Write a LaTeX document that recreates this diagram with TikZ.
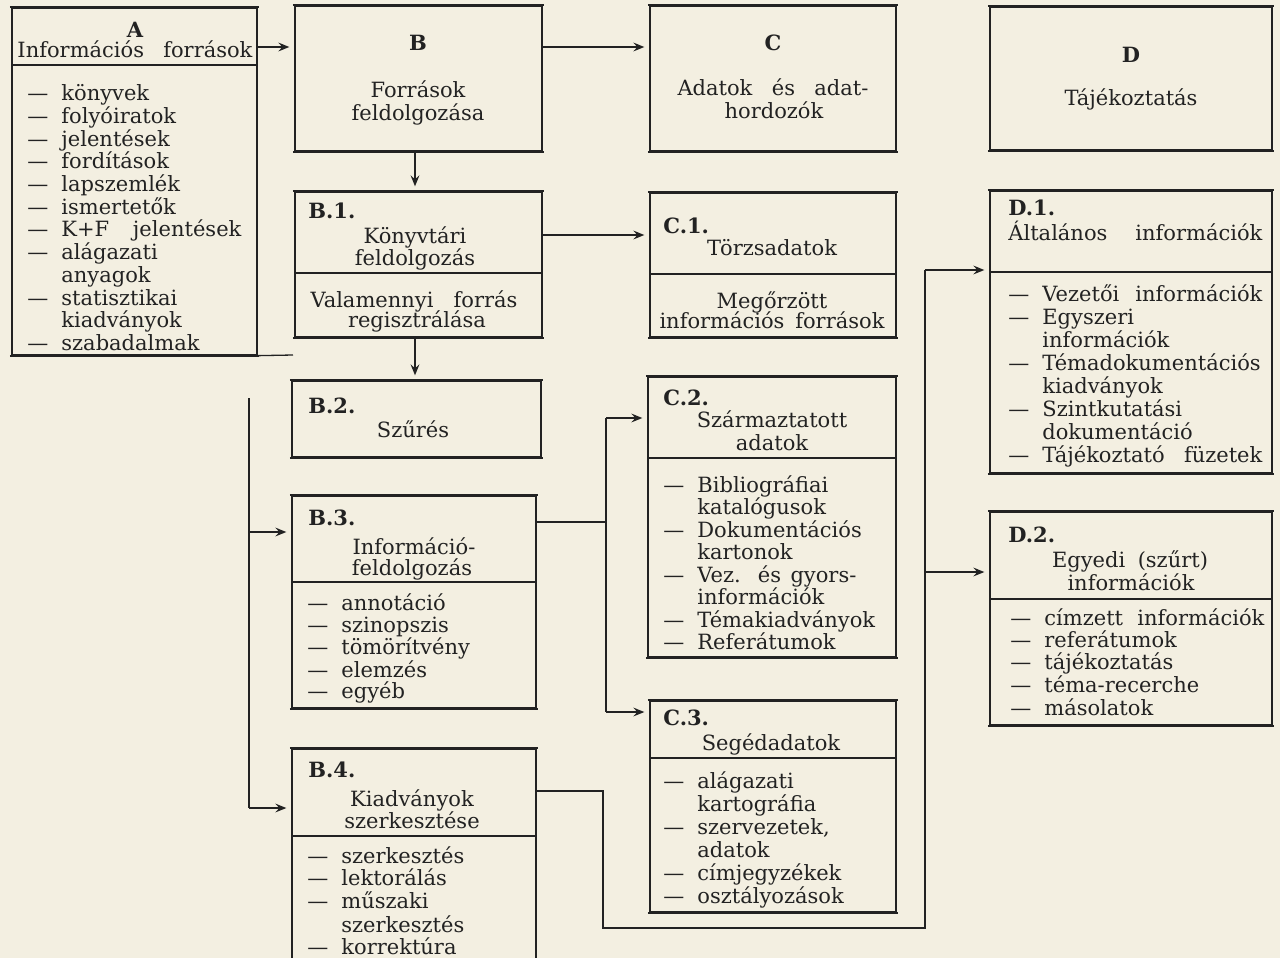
\documentclass[tikz,border=0pt]{standalone}
\usepackage{fontspec}
\setmainfont{DejaVu Serif}
\usetikzlibrary{arrows.meta,fit}
\definecolor{bg}{RGB}{243,239,225}
\definecolor{ink}{RGB}{34,34,34}
\newcommand\fnt{\fontsize{10.5}{11.5}\selectfont}
\newcounter{tno}
\newcommand\txc[3]{\stepcounter{tno}\node[ctx] (t\arabic{tno}) at (#1,#2) {#3};}
\newcommand\txl[3]{\stepcounter{tno}\node[ltx] (t\arabic{tno}) at (#1,#2) {#3};}
\newcommand\txb[3]{\stepcounter{tno}\node[btx] (t\arabic{tno}) at (#1,#2) {#3};}
\newcommand\txi[3]{\stepcounter{tno}\node[ltx] (t\arabic{tno}) at (#1,#2) {\makebox[17pt][l]{—}#3};}
\newcommand\txk[3]{\stepcounter{tno}\node[ltx] (t\arabic{tno}) at (#1,#2) {\hspace*{17pt}#3};}
\newcommand\bx[5]{\node[box, fit={(#2,#3) (#4,#5)}] (#1) {};
  \draw[hln] ([xshift=-0.8pt]#1.north west) -- ([xshift=0.8pt]#1.north east);
  \draw[hln] ([xshift=-0.8pt]#1.south west) -- ([xshift=0.8pt]#1.south east);}
\newcommand\dv[3]{\draw[dvl] (#1,#3) -- (#2,#3);}
\begin{document}
\begin{tikzpicture}[x=0.5pt,y=-0.5pt,
  box/.style={draw=ink, line width=0.65pt, inner sep=0pt},
  hln/.style={draw=ink, line width=1pt},
  dvl/.style={draw=ink, line width=0.65pt},
  ctx/.style={inner sep=0pt, anchor=base, font=\fnt, text=ink},
  ltx/.style={inner sep=0pt, anchor=base west, font=\fnt, text=ink},
  btx/.style={inner sep=0pt, anchor=base west, font=\fnt\bfseries, text=ink},
  ln/.style={draw=ink, line width=0.65pt, line join=miter},
  arr/.style={draw=ink, line width=0.65pt, -{Stealth[length=5.5pt,width=4.4pt,inset=2pt]}, shorten >=2.5pt}]
\fill[bg] (0,0) rectangle (1280,958);
\clip (0,0) rectangle (1280,958);

% ---------- boxes ----------
\bx{A}{12}{8}{257}{355}
\bx{B}{295}{6}{542}{151}
\bx{B1}{295}{192}{542}{337}
\bx{B2}{292}{381}{541}{457}
\bx{B3}{292}{496}{536}{708}
\bx{B4}{292}{749}{536}{985}
\bx{C}{650}{6}{896}{151}
\bx{C1}{650}{193}{896}{337}
\bx{C2}{648}{377}{896}{657}
\bx{C3}{650}{701}{896}{912}
\bx{D}{990}{7}{1272}{150}
\bx{D1}{990}{191}{1272}{473}
\bx{D2}{990}{512}{1272}{725}

% ---------- dividers ----------
\dv{12}{257}{65}
\dv{295}{542}{273}
\dv{292}{536}{582}
\dv{292}{536}{836}
\dv{650}{896}{274}
\dv{648}{896}{458}
\dv{650}{896}{758}
\dv{990}{1272}{272}
\dv{990}{1272}{599}

% ---------- A ----------
\txc{135}{37}{\bfseries A}
\txc{135}{57}{\makebox[117.5pt][s]{Információs források}}
\txi{27}{100}{könyvek}
\txi{27}{123}{folyóiratok}
\txi{27}{146}{jelentések}
\txi{27}{168}{fordítások}
\txi{27}{191}{lapszemlék}
\txi{27}{214}{ismertetők}
\txi{27}{236}{\makebox[90pt][s]{K+F jelentések}}
\txi{27}{259}{alágazati}
\txk{27}{282}{anyagok}
\txi{27}{305}{statisztikai}
\txk{27}{327}{kiadványok}
\txi{27}{350}{szabadalmak}

% ---------- B ----------
\txc{418}{50}{\bfseries B}
\txc{418}{97}{Források}
\txc{418}{120}{feldolgozása}

\txb{308}{218}{B.1.}
\txc{415}{243}{Könyvtári}
\txc{415}{265}{feldolgozás}
\txc{414}{307}{\makebox[103.5pt][s]{Valamennyi forrás}}
\txc{417}{327}{regisztrálása}

\txb{308}{413}{B.2.}
\txc{413}{437}{Szűrés}

\txb{308}{525}{B.3.}
\txc{414}{554}{Információ-}
\txc{412}{575}{feldolgozás}
\txi{307}{610}{annotáció}
\txi{307}{632}{szinopszis}
\txi{307}{654}{tömörítvény}
\txi{307}{677}{elemzés}
\txi{307}{698}{egyéb}

\txb{308}{777}{B.4.}
\txc{412}{806}{Kiadványok}
\txc{412}{828}{szerkesztése}
\txi{307}{863}{szerkesztés}
\txi{307}{885}{lektorálás}
\txi{307}{908}{műszaki}
\txk{307}{932}{szerkesztés}
\txi{307}{954}{korrektúra}

% ---------- C ----------
\txc{773}{50}{\bfseries C}
\txc{773}{95}{\makebox[95.5pt][s]{Adatok és adat-}}
\txc{774}{118}{hordozók}

\txb{663}{233}{C.1.}
\txc{772}{255}{Törzsadatok}
\txc{772}{308}{Megőrzött}
\txc{772}{328}{\makebox[112.5pt][s]{információs források}}

\txb{663}{405}{C.2.}
\txc{772}{427}{Származtatott}
\txc{772}{450}{adatok}
\txi{663}{492}{Bibliográfiai}
\txk{663}{514}{katalógusok}
\txi{663}{537}{Dokumentációs}
\txk{663}{559}{kartonok}
\txi{663}{582}{\makebox[79.5pt][s]{Vez. és gyors-}}
\txk{663}{604}{információk}
\txi{663}{627}{Témakiadványok}
\txi{663}{649}{Referátumok}

\txb{663}{725}{C.3.}
\txc{771}{750}{Segédadatok}
\txi{663}{788}{alágazati}
\txk{663}{811}{kartográfia}
\txi{663}{834}{szervezetek,}
\txk{663}{857}{adatok}
\txi{663}{880}{címjegyzékek}
\txi{663}{903}{osztályozások}

% ---------- D ----------
\txc{1131}{62}{\bfseries D}
\txc{1131}{105}{Tájékoztatás}

\txb{1008}{215}{D.1.}
\txl{1008}{240}{\makebox[127pt][s]{Általános információk}}
\txi{1008}{301}{\makebox[110pt][s]{Vezetői információk}}
\txi{1008}{324}{Egyszeri}
\txk{1008}{347}{információk}
\txi{1008}{370}{Témadokumentációs}
\txk{1008}{393}{kiadványok}
\txi{1008}{416}{Szintkutatási}
\txk{1008}{439}{dokumentáció}
\txi{1008}{462}{\makebox[110pt][s]{Tájékoztató füzetek}}

\txb{1008}{542}{D.2.}
\txc{1130}{567}{\makebox[78pt][s]{Egyedi (szűrt)}}
\txc{1131}{590}{információk}
\txi{1010}{625}{\makebox[110pt][s]{címzett információk}}
\txi{1010}{647}{referátumok}
\txi{1010}{669}{tájékoztatás}
\txi{1010}{692}{téma-recerche}
\txi{1010}{715}{másolatok}

% ---------- connectors ----------
\coordinate (ab) at (257,47);
\coordinate (bc) at (542,47);
\coordinate (bb1) at (415,151);
\coordinate (b1c1) at (542,235);
\coordinate (b1b2) at (415,337);
\coordinate (aext) at (293,355);
\coordinate (s1t) at (249,398);
\coordinate (s1a) at (249,532);
\coordinate (s1b) at (249,808);
\coordinate (b3o) at (536,522);
\coordinate (s2t) at (606,418);
\coordinate (s2b) at (606,712);
\coordinate (b4o) at (536,791);
\coordinate (k1) at (603,791);
\coordinate (k2) at (603,928);
\coordinate (k3) at (925,928);
\coordinate (k4) at (925,270);
\coordinate (k5) at (925,572);

\draw[arr] (ab) -- (ab -| B.west);
\draw[arr] (bc) -- (bc -| C.west);
\draw[arr] (bb1) -- (bb1 |- B1.north);
\draw[arr] (b1c1) -- (b1c1 -| C1.west);
\draw[arr] (b1b2) -- (b1b2 |- B2.north);
\draw[ln] (A.south east) -- (aext);
\draw[ln] (s1t) -- (s1b);
\draw[arr] (s1a) -- (s1a -| B3.west);
\draw[arr] (s1b) -- (s1b -| B4.west);
\draw[ln] (b3o) -- (b3o -| s2t);
\draw[ln] (s2t) -- (s2b);
\draw[arr] (s2t) -- (s2t -| C2.west);
\draw[arr] (s2b) -- (s2b -| C3.west);
\draw[ln] (b4o) -- (k1) -- (k2) -- (k3) -- (k4);
\draw[arr] (k4) -- (k4 -| D1.west);
\draw[arr] (k5) -- (k5 -| D2.west);
\end{tikzpicture}
\end{document}
